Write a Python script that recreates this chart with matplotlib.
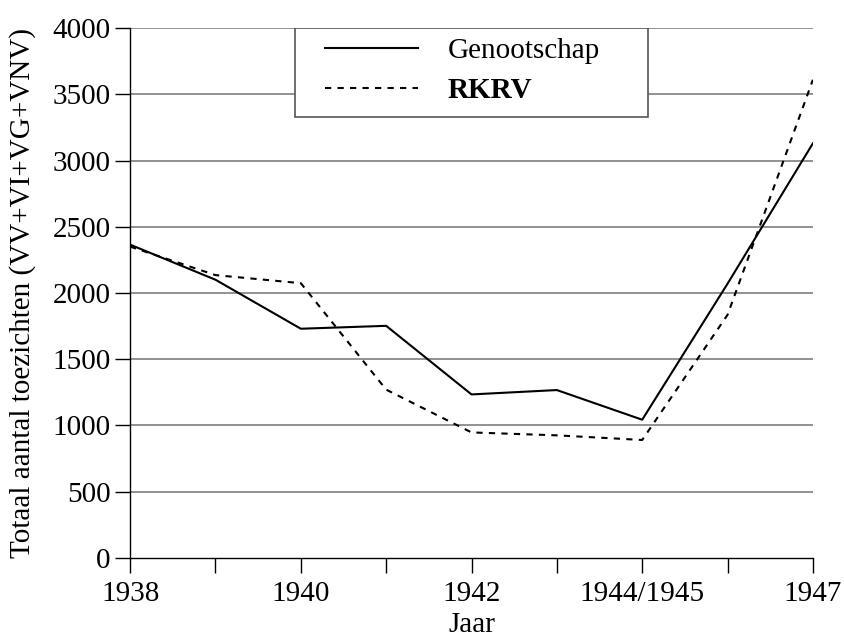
import matplotlib
matplotlib.use("Agg")
import matplotlib.pyplot as plt
from matplotlib.patches import Rectangle

years = ["1938", "1939", "1940", "1941", "1942", "1943", "1944/1945", "1946", "1947"]
shown_labels = ["1938", "", "1940", "", "1942", "", "1944/1945", "", "1947"]
genootschap = [2365, 2100, 1730, 1752, 1234, 1267, 1043, 2070, 3130]
rkrv = [2350, 2135, 2074, 1270, 947, 925, 890, 1835, 3610]
yticks = [0, 500, 1000, 1500, 2000, 2500, 3000, 3500, 4000]

plt.rcParams['font.family'] = ['Liberation Serif', 'DejaVu Serif']

fig = plt.figure(figsize=(8.45, 6.39), dpi=100)
ax = fig.add_axes([0.154, 0.127, 0.808, 0.829])

x = list(range(len(years)))
ax.plot(x, genootschap, color='black', linewidth=1.5, linestyle='-', label='Genootschap')
ax.plot(x, rkrv, color='black', linewidth=1.5, linestyle=(0, (3, 3)), label='RKRV')

ax.set_xlim(0, len(years) - 1)
ax.set_ylim(0, 4000)
ax.set_yticks(yticks)
ax.set_xticks(x)
ax.set_xticklabels(shown_labels)
ax.tick_params(axis='both', labelsize=21, length=11, width=1, direction='out', colors='black')
ax.tick_params(axis='x', pad=6)
ax.tick_params(axis='y', pad=3)

for v in yticks[1:]:
    ax.axhline(v, color='#7f7f7f', linewidth=1.2, zorder=0)

for s in ['top', 'right']:
    ax.spines[s].set_visible(False)
for s in ['left', 'bottom']:
    ax.spines[s].set_linewidth(1)
    ax.spines[s].set_color('black')

ax.set_xlabel('Jaar', fontsize=21, labelpad=3)
ax.set_ylabel('Totaal aantal toezichten (VV+VI+VG+VNV)', fontsize=21, labelpad=12)

# legend frame drawn separately
frame = Rectangle((0.2416, 0.832), 0.5168, 0.168, transform=ax.transAxes,
                  facecolor='white', edgecolor='#555555', linewidth=1.2, zorder=4)
ax.add_patch(frame)

leg = ax.legend(loc='upper left', bbox_to_anchor=(0.2855, 0.982),
                borderaxespad=0, borderpad=0, fontsize=21, handlelength=3.2,
                handletextpad=1.0, labelspacing=0.45, frameon=False)
leg.set_zorder(5)
leg.get_texts()[1].set_fontweight('bold')

fig.savefig('out.png', dpi=100)
